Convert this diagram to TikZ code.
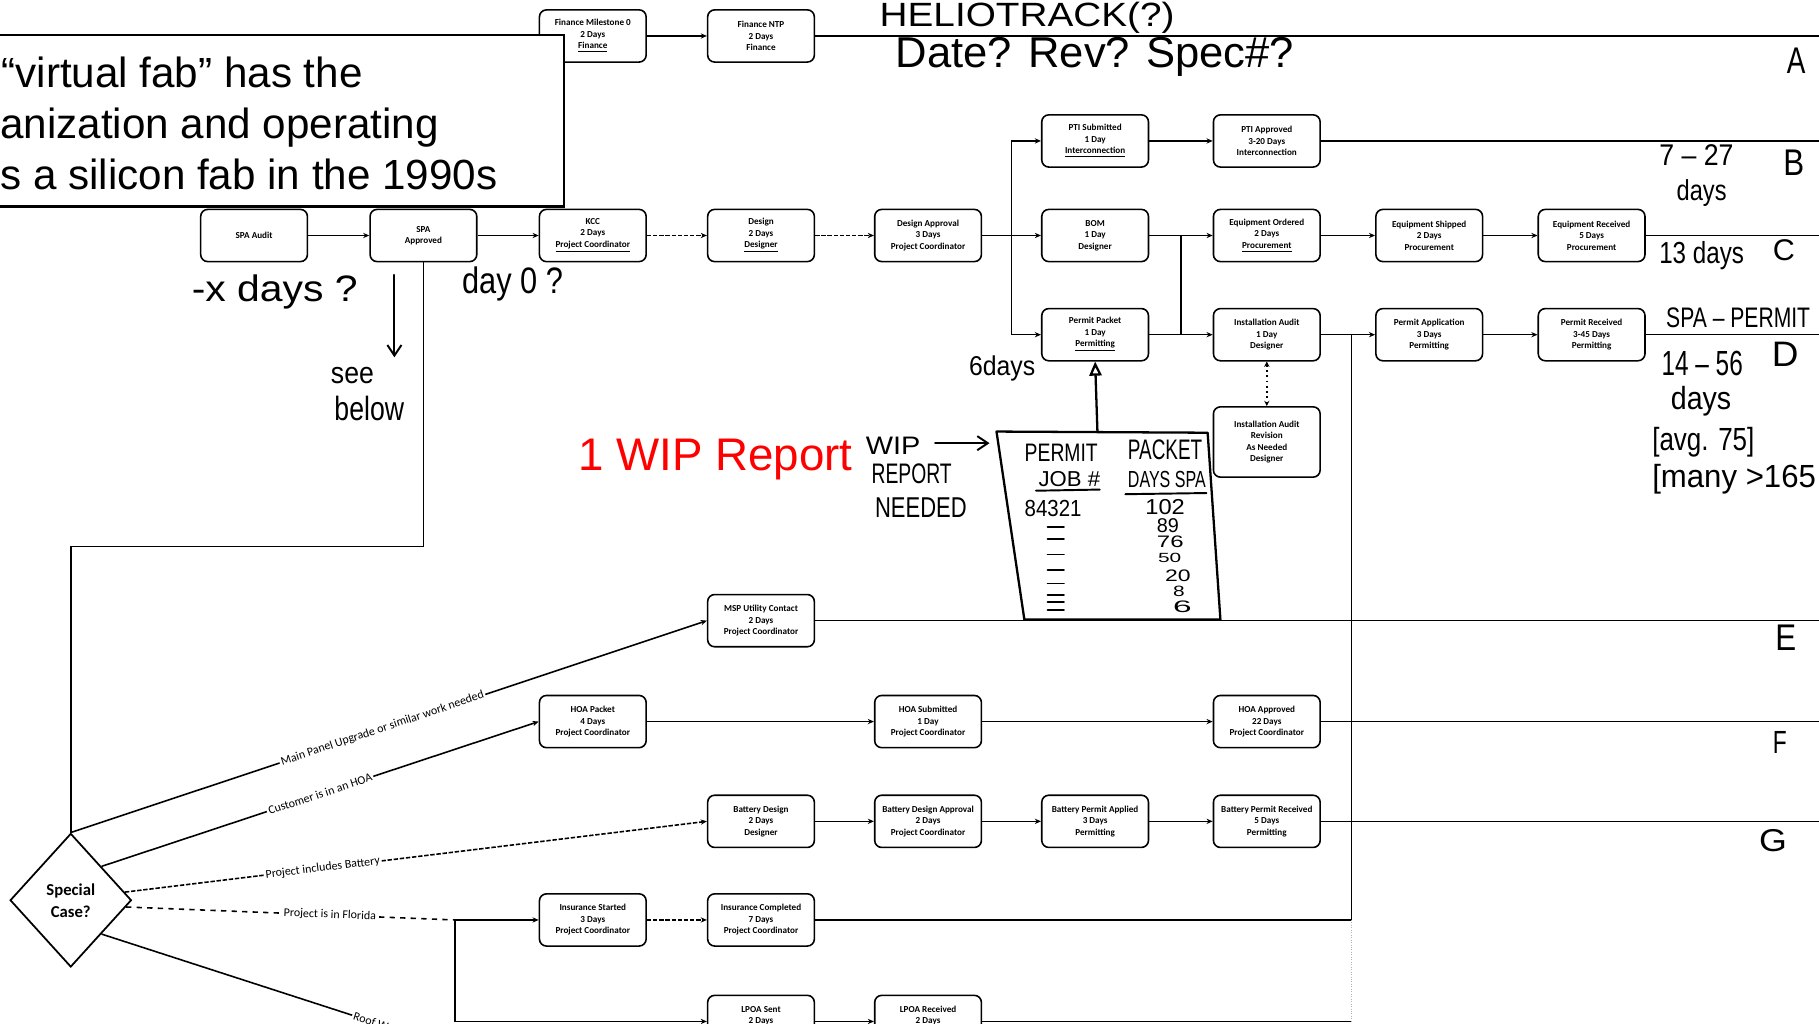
\documentclass[tikz,border=0pt]{standalone}
\usepackage{fontspec}
\setmainfont{Carlito}
\newfontfamily\bigfont{Liberation Sans}
\newfontfamily\handfont{Liberation Sans}
\usetikzlibrary{arrows.meta,shapes.geometric,calc}
\newdimen\dpx
\dpx=0.6601pt
\newcommand\hw[3]{\resizebox{#1\dpx}{#2\dpx}{\handfont #3}}
\begin{document}
\begin{tikzpicture}[x=0.0232cm,y=-0.0232cm,
 box/.style={draw, line width=0.9pt, rounded corners=4pt, minimum width=60.7pt, minimum height=29.7pt, align=center, inner sep=1pt, font=\fontsize{5.2}{6.5}\selectfont\bfseries, fill=white},
 conn/.style={line width=0.9pt, -{Stealth[length=3.5pt,width=3pt]}},
 dconn/.style={conn, dash pattern=on 2.5pt off 1pt},
 plain/.style={line width=0.9pt},
 hand/.style={line width=1.1pt, line cap=round, line join=round},
 hwn/.style={anchor=west, inner sep=0pt},
 lab/.style={sloped, fill=white, inner sep=1pt, font=\fontsize{6.8}{8}\selectfont},
 ]
\useasboundingbox (0,0) rectangle (1568,882);
\clip (0,0) rectangle (1568,882);
\fill[white] (0,0) rectangle (1568,882);

% ---------- boxes ----------
\node[box] (fm0) at (511,31) {Finance Milestone 0\\2 Days\\\underline{Finance}};
\node[box] (fntp) at (656,31) {Finance NTP\\2 Days\\Finance};
\node[box] (ptis) at (944,121.5) {PTI Submitted\\1 Day\\\underline{Interconnection}};
\node[box] (ptia) at (1092,121.5) {PTI Approved\\3-20 Days\\Interconnection};
\node[box] (spaaud) at (219,203) {SPA Audit};
\node[box] (spaapp) at (365,203) {SPA\\Approved};
\node[box] (kcc) at (511,203) {KCC\\2 Days\\\underline{Project Coordinator}};
\node[box] (des) at (656,203) {Design\\2 Days\\\underline{Designer}};
\node[box] (dapp) at (800,203) {Design Approval\\3 Days\\Project Coordinator};
\node[box] (bom) at (944,203) {BOM\\1 Day\\Designer};
\node[box] (eqo) at (1092,203) {Equipment Ordered\\2 Days\\\underline{Procurement}};
\node[box] (eqs) at (1232,203) {Equipment Shipped\\2 Days\\Procurement};
\node[box] (eqr) at (1372,203) {Equipment Received\\5 Days\\Procurement};
\node[box] (pp) at (944,288.5) {Permit Packet\\1 Day\\\underline{Permitting}};
\node[box] (ia) at (1092,288.5) {Installation Audit\\1 Day\\Designer};
\node[box] (pa) at (1232,288.5) {Permit Application\\3 Days\\Permitting};
\node[box] (pr) at (1372,288.5) {Permit Received\\3-45 Days\\Permitting};
\node[box, minimum height=40pt] (rev) at (1092,381) {Installation Audit\\Revision\\As Needed\\Designer};
\node[box] (msp) at (656,535) {MSP Utility Contact\\2 Days\\Project Coordinator};
\node[box] (hoap) at (511,622) {HOA Packet\\4 Days\\Project Coordinator};
\node[box] (hoas) at (800,622) {HOA Submitted\\1 Day\\Project Coordinator};
\node[box] (hoaa) at (1092,622) {HOA Approved\\22 Days\\Project Coordinator};
\node[box] (bd) at (656,708) {Battery Design\\2 Days\\Designer};
\node[box] (bda) at (800,708) {Battery Design Approval\\2 Days\\Project Coordinator};
\node[box] (bpa) at (944,708) {Battery Permit Applied\\3 Days\\Permitting};
\node[box] (bpr) at (1092,708) {Battery Permit Received\\5 Days\\Permitting};
\node[box] (ins) at (511,793) {Insurance Started\\3 Days\\Project Coordinator};
\node[box] (inc) at (656,793) {Insurance Completed\\7 Days\\Project Coordinator};
\node[box] (ls) at (656,880.5) {LPOA Sent\\2 Days\\\phantom{2 Days}};
\node[box] (lr) at (800,880.5) {LPOA Received\\2 Days\\\phantom{2 Days}};
\node[diamond, draw, line width=1pt, minimum width=69pt, minimum height=76pt, inner sep=0pt, align=center, fill=white, font=\fontsize{9.5}{12.5}\selectfont\bfseries] (sc) at (61,776) {Special\\Case?};

% ---------- connectors ----------
\coordinate (eA) at (1568,31);
\coordinate (eB) at (1568,121.5);
\coordinate (eC) at (1568,203);
\coordinate (eD) at (1568,288.5);
\coordinate (eE) at (1568,535);
\coordinate (eF) at (1568,622);
\coordinate (eG) at (1568,708);
\coordinate (j1) at (872,203);
\coordinate (j2) at (1018,203);
\coordinate (j3) at (1165,288.5);
\coordinate (j4) at (1165,793);
\coordinate (j5) at (1165,880.5);
\coordinate (k1) at (365,471);
\coordinate (fl) at (392,793);
\coordinate (rf) at (365,895);

\draw[conn] (fm0) -- (fntp);
\draw[plain] (fntp) -- (eA);
\draw[conn] (ptis) -- (ptia);
\draw[plain] (ptia) -- (eB);
\draw[conn] (spaaud) -- (spaapp);
\draw[conn] (spaapp) -- (kcc);
\draw[dconn] (kcc) -- (des);
\draw[dconn] (des) -- (dapp);
\draw[conn] (dapp) -- (bom);
\draw[conn] (j1) |- (ptis);
\draw[conn] (j1) |- (pp);
\draw[conn] (bom) -- (eqo);
\draw[conn] (eqo) -- (eqs);
\draw[conn] (eqs) -- (eqr);
\draw[plain] (eqr) -- (eC);
\draw[plain] (j2) -- (j2 |- ia);
\draw[conn] (pp) -- (ia);
\draw[conn] (ia) -- (pa);
\draw[conn] (pa) -- (pr);
\draw[plain] (pr) -- (eD);
\draw[dotted, line width=1pt, {Stealth[length=3pt,width=3pt]}-{Stealth[length=3pt,width=3pt]}] (ia) -- (rev);
\draw[plain] (j3) -- (j4) -- (inc);
\draw[plain] (msp) -- (eE);
\draw[conn] (hoap) -- (hoas);
\draw[conn] (hoas) -- (hoaa);
\draw[plain] (hoaa) -- (eF);
\draw[conn] (bd) -- (bda);
\draw[conn] (bda) -- (bpa);
\draw[conn] (bpa) -- (bpr);
\draw[plain] (bpr) -- (eG);
\draw[dconn] (ins) -- (inc);
\draw[conn] (ls) -- (lr);
\draw[plain] (lr) -- (j5);
\draw[densely dotted, gray!60] (j4) -- (j5);
\draw[plain] (spaapp) -- (k1) -| (sc.north);

\draw[conn] (sc.north) -- node[lab,pos=0.49]{Main Panel Upgrade or similar work needed} (msp.west);
\draw[conn] ($(sc.north)!0.5!(sc.east)$) -- node[lab,pos=0.5]{Customer is in an HOA} (hoap.west);
\draw[dconn] ($(sc.north)!0.88!(sc.east)$) -- node[lab,pos=0.34]{Project includes Battery} (bd.west);
\draw[plain, dashed] ($(sc.east)!0.1!(sc.south)$) -- node[lab,pos=0.62]{Project is in Florida} (fl);
\draw[conn] (fl) -- (ins);
\draw[conn] (fl) |- (ls);
\draw[plain] ($(sc.east)!0.5!(sc.south)$) -- node[lab,pos=0.86]{Roof Work} (rf);

% ---------- handwriting ----------
\node[hwn] (h1) at (758,15) {\hw{254}{21}{HELIOTRACK(?)}};
\node[hwn] (h2) at (772,49) {\hw{343}{26}{Date? Rev? Spec\#?}};
\node[hwn] (hA) at (1540,52) {\hw{16}{22}{A}};
\node[hwn] (h727) at (1430,134) {\hw{64}{18}{7 – 27}};
\node[hwn] (hdays1) at (1445,166) {\hw{43}{18}{days}};
\node[hwn] (hB) at (1537,140) {\hw{18}{22}{B}};
\node[hwn] (h13) at (1430,220) {\hw{73}{19}{13 days}};
\node[hwn] (hC) at (1528,216) {\hw{19}{18}{C}};
\node[hwn] (hspa) at (1436,274) {\hw{124}{17}{SPA – PERMIT}};
\node[hwn] (h1456) at (1432,313) {\hw{70}{21}{14 – 56}};
\node[hwn] (hD) at (1527,305) {\hw{23}{21}{D}};
\node[hwn] (hdays2) at (1440,346) {\hw{52}{20}{days}};
\node[hwn] (havg) at (1424,381) {\hw{88}{20}{[avg. 75]}};
\node[hwn] (hmany) at (1424,413) {\hw{141}{20}{[many >165}};
\node[hwn] (hE) at (1530,550) {\hw{18}{22}{E}};
\node[hwn] (hF) at (1528,640) {\hw{12}{19}{F}};
\node[hwn] (hG) at (1516,725) {\hw{24}{19}{G}};
\node[hwn] (hx) at (165,252) {\hw{143}{23}{-x days ?}};
\node[hwn] (hd0) at (398,245) {\hw{87}{23}{day 0 ?}};
\node[hwn] (hsee) at (285,324) {\hw{37}{14}{see}};
\node[hwn] (hbelow) at (288,352) {\hw{60}{21}{below}};
\node[hwn] (h6) at (835,318) {\hw{57}{17}{6days}};
\node[hwn] (hwip) at (746,384) {\hw{47}{15}{WIP}};
\node[hwn] (hrep) at (751,408) {\hw{69}{17}{REPORT}};
\node[hwn] (hneed) at (754,438) {\hw{79}{17}{NEEDED}};
\coordinate (sb1) at (340,237);
\coordinate (sb2) at (340,308);
\draw[hand, -{Straight Barb[length=6pt,width=8pt]}] (sb1) -- (sb2);
\coordinate (wa1) at (806,382);
\coordinate (wa2) at (853,382);
\draw[hand, -{Straight Barb[length=6pt,width=8pt]}] (wa1) -- (wa2);

% WIP table
\draw[hand, line width=1.3pt] (859,372) -- (1041,373) -- (1052,534) -- (883,534) -- cycle;
\coordinate (tt) at (946,372);
\draw[hand, line width=1.3pt, -{Triangle[open,length=8pt,width=7pt]}] (tt) -- (pp.south);
\node[hwn] (tp1) at (883,390) {\hw{63}{15}{PERMIT}};
\node[hwn] (tp2) at (972,388) {\hw{64}{17}{PACKET}};
\node[hwn] (tj) at (895,413) {\hw{53}{13}{JOB \#}};
\node[hwn] (td) at (972,413) {\hw{67}{14}{DAYS SPA}};
\draw[hand] (893,423) -- (948,422);
\draw[hand] (970,426) -- (1040,425);
\node[hwn] (tn0) at (883,438) {\hw{49}{14}{84321}};
\node[hwn] (tn1) at (987,437) {\hw{34}{13}{102}};
\node[hwn] (tn2) at (997,453) {\hw{19}{12}{89}};
\node[hwn] (tn3) at (997,467) {\hw{23}{10}{76}};
\node[hwn] (tn4) at (998,481) {\hw{20}{8}{50}};
\node[hwn] (tn5) at (1004,496) {\hw{22}{10}{20}};
\node[hwn] (tn6) at (1011,510) {\hw{10}{9}{8}};
\node[hwn] (tn7) at (1011,523) {\hw{16}{10}{6}};
\foreach \yy in {454,465,478,491,503,513,519,526} \draw[hand] (903,\yy) -- (917,\yy);

% ---------- text box and red title ----------
\draw[line width=1.3pt, fill=white] (-10,30) rectangle (486,178);
\node[anchor=base west, inner sep=0pt, font=\bigfont\fontsize{24}{29}\selectfont] (t1) at (1,75) {“virtual fab” has the};
\node[anchor=base west, inner sep=0pt, font=\bigfont\fontsize{24}{29}\selectfont] (t2) at (0,119) {anization and operating};
\node[anchor=base west, inner sep=0pt, font=\bigfont\fontsize{24}{29}\selectfont] (t3) at (0,163) {s a silicon fab in the 1990s};
\node[anchor=base west, inner sep=0pt, text=red, font=\bigfont\fontsize{26}{30}\selectfont] (wipr) at (498,406) {1 WIP Report};
\end{tikzpicture}
\end{document}
